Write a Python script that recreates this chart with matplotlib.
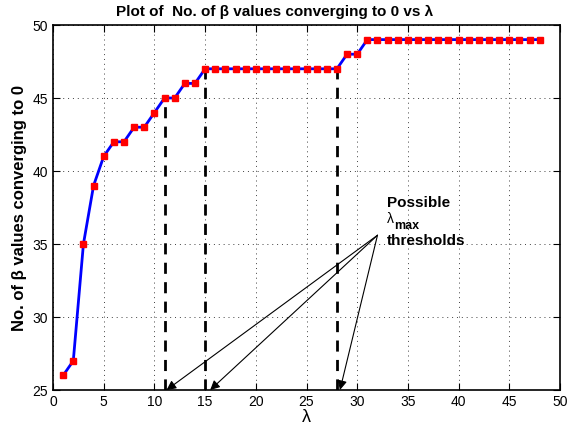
import numpy as np
import matplotlib
matplotlib.use('Agg')
from matplotlib import pyplot as plt

# lambda values and count of betas converging to 0
lam = list(range(1, 49))
n_zero = [26, 27, 35, 39, 41, 42, 42, 43, 43, 44, 45, 45, 46, 46] + [47] * 14 + [48, 48] + [49] * 18

# candidate thresholds
thr = [11, 15, 28]
thr_top = [45, 47, 47]

plt.rcParams['font.family'] = ['Liberation Sans', 'DejaVu Sans']

fig = plt.figure(figsize=(5.8, 4.29), dpi=100)
ax = fig.add_axes([0.0914, 0.0909, 0.8741, 0.8508])

ax.plot(lam, n_zero, '-', color='blue', lw=2, zorder=3)
ax.plot(lam, n_zero, 's', color='red', ms=5, zorder=4)

for x, t in zip(thr, thr_top):
    ax.plot([x, x], [25, t], '--', color='black', lw=2, dashes=(4, 3), zorder=2)

ax.set_xlim(0, 50)
ax.set_ylim(25, 50)
ax.set_xticks(range(0, 51, 5))
ax.set_yticks(range(25, 51, 5))
ax.grid(True, linestyle=(0, (1, 4)), color='0.25', lw=0.7)
ax.tick_params(direction='in', top=True, right=True, labelsize=10, length=5)
for s in ax.spines.values():
    s.set_linewidth(1.2)

fig.text(0.474, 0.972, 'Plot of  No. of \u03b2 values converging to 0 vs \u03bb', fontsize=11,
         fontweight='bold', ha='center', va='center')
ax.set_ylabel('No. of \u03b2 values converging to 0', fontsize=12, fontweight='bold')
ax.set_xlabel('\u03bb', fontsize=13, labelpad=0)

# annotation
ax.text(32.9, 37.8, 'Possible', fontsize=11, fontweight='bold', va='center')
ax.text(32.9, 36.7, '\u03bb', fontsize=10, va='center')
ax.text(33.6, 36.2, 'max', fontsize=9, fontweight='bold', va='center')
ax.text(32.9, 35.2, 'thresholds', fontsize=11, fontweight='bold', va='center')
for x in [11.2, 15.5, 28.3]:
    ax.annotate('', xy=(x, 25), xytext=(32.0, 35.6),
                arrowprops=dict(arrowstyle='-|>', lw=0.8, color='black',
                                mutation_scale=14, shrinkA=0, shrinkB=0))

plt.savefig('out.png', dpi=100)
